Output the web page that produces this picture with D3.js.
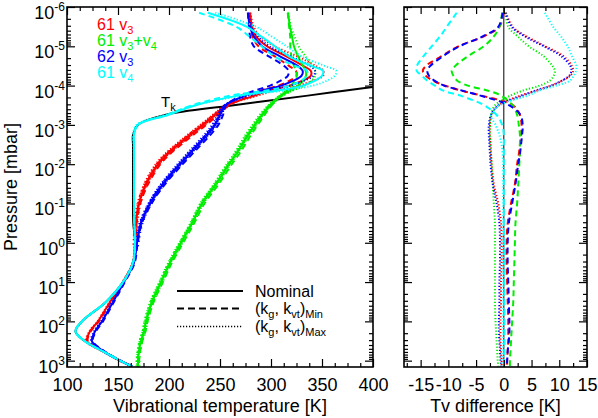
<!DOCTYPE html>
<html><head><meta charset="utf-8">
<script src="https://cdn.jsdelivr.net/npm/d3@7"></script>
<style>body{margin:0;background:#fff}svg{display:block;font-family:"Liberation Sans",Arial,sans-serif}</style>
</head><body><svg id="c" width="598" height="418"></svg>
<script>
// ---------- data ----------
const pressure = [1.4e-6, 3.2e-6, 5.6e-6, 1e-5, 1.8e-5, 3.2e-5, 4.2e-5, 5.6e-5, 7.5e-5, 1e-4, 1.33e-4, 1.8e-4, 3.2e-4, 5.6e-4, 1e-3, 1.8e-3, 3.2e-3, 5.6e-3, 1e-2, 3.2e-2, 0.1, 0.32, 1, 3.2, 10, 32, 100, 180, 320, 560, 1000, 1400];
const tkNominal = [null, null, null, null, null, null, null, null, null, 410, 373.5, 336, 261.5, 196, 169.6, 164.7, 164.7, 164.7, 164.7, 164.7, 164.7, 165, 166.7, 164.7, 154.9, 138.2, 114.7, 108.3, 117.6, 134.3, 152, 163.7];
const tv61v3 = [279.4, 281.4, 285.3, 296, 315, 332, 339, 339, 331, 318, 298, 284, 257, 245, 233.3, 220.6, 208.8, 198, 189.2, 177.5, 170.6, 167.6, 166.7, 164.7, 154.9, 142.2, 130.4, 122.5, 119.6, 134.3, 152, 163.7];
const tv61v3v4 = [316.7, 318.6, 320.6, 322.5, 326.5, 331.4, 334, 334.3, 331.5, 326.5, 318, 309.8, 299, 291.2, 284.3, 277.5, 271.6, 265.7, 258.8, 246.1, 232.4, 222.5, 211.8, 201, 192.2, 183.3, 177.5, 175.5, 172.5, 170.6, 169.6, 169.6];
const tv62v3 = [277.5, 279.4, 283.3, 291.2, 308.8, 326.5, 331, 330, 322, 310, 292, 275, 255, 250, 245, 237.3, 228.4, 219.6, 210.8, 194.1, 181.4, 172.5, 168.6, 165.7, 155.9, 145.1, 134.3, 127.5, 124.5, 135.3, 152, 163.7];
const tv61v4 = [238, 276.5, 290.2, 303.9, 317.6, 340.2, 351, 350, 343.1, 331.4, 306.9, 267.6, 225.5, 199, 169.6, 165.7, 165.7, 165.7, 165.7, 165.7, 165.7, 166, 166.7, 164.7, 154.9, 138.2, 114.7, 108.3, 117.6, 134.3, 152, 163.7];
// differences (K) relative to nominal: Min = dashed, Max = dotted
const dMin61v3 = [0, -0.8, -3.6, -8.2, -11.3, -14.1, -14.6, -14.1, -12.8, -10.6, -7.8, -4, 1.7, 2.9, 3.2, 3.1, 2.9, 2.7, 2.4, 2.0, 1.3, 0.7, 0.5, 0.5, 0.6, 0.7, 0.8, 0.8, 0.8, 0.7, 0.6, 0.6];
const dMin61v3v4 = [-0.3, -0.8, -1.8, -3.6, -6.5, -8.8, -9.4, -9.1, -8.4, -6.5, -3.0, -0.5, 1.6, 2.4, 2.7, 2.9, 2.9, 2.9, 2.8, 2.6, 2.4, 2.1, 2.0, 1.9, 1.8, 1.7, 1.5, 1.4, 1.3, 1.2, 1.1, 1.1];
const dMin62v3 = [-0.2, -1.0, -3.8, -8.0, -11.0, -13.3, -13.8, -13.5, -12.5, -10.8, -7.6, -4.2, 1.0, 3.0, 3.4, 3.3, 3.1, 2.9, 2.6, 2.1, 1.5, 0.9, 0.7, 0.7, 0.8, 0.9, 1.0, 1.0, 0.9, 0.7, 0.6, 0.5];
const dMin61v4 = [-8.5, -10.3, -11.5, -13.0, -14.5, -15.7, -15.7, -14.8, -13.8, -12.4, -11.0, -7.8, -3.5, -1.3, -0.3, 0, 0, 0, 0, 0, 0, 0, 0.1, 0.1, 0.1, 0.1, 0.1, 0.1, 0.1, 0.1, 0.1, 0.1];
const dMax61v3 = [0.4, 1.6, 4.1, 7.5, 10.8, 12.3, 12.5, 12.0, 10.5, 8.5, 6.0, 3.0, -1.0, -2.2, -2.5, -2.5, -2.4, -2.3, -2.2, -1.8, -1.0, -0.5, -0.4, -0.4, -0.5, -0.5, -0.6, -0.6, -0.6, -0.5, -0.4, -0.4];
const dMax61v3v4 = [0.3, 0.8, 2.5, 4.5, 7.2, 8.8, 9.2, 9.0, 8.3, 6.5, 3.5, 1.2, -1.6, -2.3, -2.5, -2.5, -2.4, -2.3, -2.2, -2.0, -1.8, -1.6, -1.6, -1.6, -1.6, -1.6, -1.5, -1.4, -1.3, -1.2, -1.1, -1.0];
const dMax62v3 = [0.3, 1.4, 3.8, 7.2, 10.4, 12.0, 12.2, 11.8, 10.5, 8.6, 5.8, 3.4, -1.0, -2.3, -2.7, -2.7, -2.6, -2.5, -2.4, -2.0, -1.3, -0.8, -0.7, -0.7, -0.8, -0.8, -0.9, -0.9, -0.8, -0.7, -0.6, -0.5];
const dMax61v4 = [7.4, 8.9, 10.3, 11.5, 12.3, 13.1, 13.0, 12.6, 11.9, 9.5, 6.5, 4.3, -0.8, -2.3, -1.5, -0.8, -0.4, -0.2, -0.1, -0.1, -0.1, -0.1, -0.1, -0.1, -0.1, -0.1, -0.1, -0.1, -0.1, -0.1, -0.1, -0.1];

const tempTicks = [100, 150, 200, 250, 300, 350, 400];
const diffTicks = [-15, -10, -5, 0, 5, 10, 15];
const pressureDecades = [-6, -5, -4, -3, -2, -1, 0, 1, 2, 3];

const species = [
  {label: ["61 v", "3"], color: "#ff0000", tv: tv61v3, dMin: dMin61v3, dMax: dMax61v3, marks: [3.2e-4, 1.2]},
  {label: ["61 v", "3", "+v", "4"], color: "#00ee00", tv: tv61v3v4, dMin: dMin61v3v4, dMax: dMax61v3v4, marks: [1.1e-4, 2000]},
  {label: ["62 v", "3"], color: "#0000ff", tv: tv62v3, dMin: dMin62v3, dMax: dMax62v3, marks: [3.0e-4, 1.2]},
  {label: ["61 v", "4"], color: "#00ffff", tv: tv61v4, dMin: dMin61v4, dMax: dMax61v4, marks: null}
];

// ---------- layout ----------
const svg = d3.select("#c");
const yP = d3.scaleLog().domain([1e-6, 1450]).range([7, 367]);
const xL = d3.scaleLinear().domain([100, 400]).range([67, 373]);
const xR = d3.scaleLinear().domain([-18, 15]).range([404, 587]);
const FS = 18;

const defs = svg.append("defs");
defs.append("clipPath").attr("id", "clipL").append("rect").attr("x", 67).attr("y", 7).attr("width", 306).attr("height", 360);
defs.append("clipPath").attr("id", "clipR").append("rect").attr("x", 404).attr("y", 7).attr("width", 183).attr("height", 360);

const minorsY = [];
pressureDecades.forEach(d => { for (let k = 2; k <= 9; k++) { const v = k * Math.pow(10, d); if (v <= 1450) minorsY.push(v); } });
const decadeVals = pressureDecades.map(d => Math.pow(10, d));

function frame(x, majors, minors, majLen, minLen) {
  const [x0, x1] = x.range();
  const g = svg.append("g");
  const strip = a => a.call(s => s.select(".domain").remove());
  const b = g.append("g").attr("transform", "translate(0,367)")
    .call(d3.axisBottom(x).tickValues(majors).tickSize(-majLen).tickSizeOuter(0).tickPadding(11).tickFormat(d => String(d)));
  strip(b);
  b.selectAll("text").attr("font-size", FS).attr("font-family", "Liberation Sans, Arial, sans-serif").attr("fill", "#000");
  g.append("g").attr("transform", "translate(0,367)").call(d3.axisBottom(x).tickValues(minors).tickSize(-minLen).tickFormat("")).call(strip);
  g.append("g").attr("transform", "translate(0,7)").call(d3.axisTop(x).tickValues(majors).tickSize(-majLen).tickFormat("")).call(strip);
  g.append("g").attr("transform", "translate(0,7)").call(d3.axisTop(x).tickValues(minors).tickSize(-minLen).tickFormat("")).call(strip);
  g.append("g").attr("transform", `translate(${x0},0)`).call(d3.axisLeft(yP).tickValues(decadeVals).tickSize(-8).tickFormat("")).call(strip);
  g.append("g").attr("transform", `translate(${x0},0)`).call(d3.axisLeft(yP).tickValues(minorsY).tickSize(-4).tickFormat("")).call(strip);
  g.append("g").attr("transform", `translate(${x1},0)`).call(d3.axisRight(yP).tickValues(decadeVals).tickSize(-8).tickFormat("")).call(strip);
  g.append("g").attr("transform", `translate(${x1},0)`).call(d3.axisRight(yP).tickValues(minorsY).tickSize(-4).tickFormat("")).call(strip);
  g.selectAll(".tick line").attr("stroke", "#000").attr("stroke-width", 1.2);
  g.append("rect").attr("x", x0).attr("y", 7).attr("width", x1 - x0).attr("height", 360)
    .attr("fill", "none").attr("stroke", "#000").attr("stroke-width", 1.6);
}

const tempMinors = d3.range(100, 400.1, 12.5).filter(v => v % 50 !== 0);
const diffMinors = d3.range(-17.5, 15.1, 2.5).filter(v => v % 5 !== 0);

// ---------- left panel curves ----------
const line = (xs, vals) => d3.line()
  .defined(d => d[0] != null)
  .x(d => xs(d[0])).y(d => yP(d[1]))
  .curve(d3.curveCatmullRom.alpha(0.5))(vals.map((v, i) => [v, pressure[i]]));

const gL = svg.append("g").attr("clip-path", "url(#clipL)");
gL.append("path").attr("d", line(xL, tkNominal)).attr("fill", "none").attr("stroke", "#000").attr("stroke-width", 2);

species.forEach(s => {
  const minVals = s.tv.map((t, i) => t + s.dMin[i]);
  const maxVals = s.tv.map((t, i) => t + s.dMax[i]);
  gL.append("path").attr("d", line(xL, maxVals)).attr("fill", "none").attr("stroke", s.color).attr("stroke-width", 2).attr("stroke-dasharray", "1.2,2");
  gL.append("path").attr("d", line(xL, minVals)).attr("fill", "none").attr("stroke", s.color).attr("stroke-width", 2).attr("stroke-dasharray", "6,4");
  const p = gL.append("path").attr("d", line(xL, s.tv)).attr("fill", "none").attr("stroke", s.color).attr("stroke-width", 2);
  if (s.marks) {
    const node = p.node(), L = node.getTotalLength();
    const yTop = yP(s.marks[0]), yBot = Math.min(367, yP(s.marks[1]));
    for (let d = 0; d <= L; d += 4.5) {
      const pt = node.getPointAtLength(d);
      if (pt.y < yTop || pt.y > yBot) continue;
      gL.append("path").attr("d", `M${pt.x - 2.5},${pt.y}h5M${pt.x},${pt.y - 2.5}v5`)
        .attr("stroke", s.color).attr("stroke-width", 1.3);
    }
  }
});

// ---------- right panel ----------
const gR = svg.append("g").attr("clip-path", "url(#clipR)");
gR.append("line").attr("x1", xR(0)).attr("x2", xR(0)).attr("y1", 7).attr("y2", 367).attr("stroke", "#000").attr("stroke-width", 1);
species.forEach(s => {
  gR.append("path").attr("d", line(xR, s.dMax)).attr("fill", "none").attr("stroke", s.color).attr("stroke-width", 2).attr("stroke-dasharray", "1.2,2");
  gR.append("path").attr("d", line(xR, s.dMin)).attr("fill", "none").attr("stroke", s.color).attr("stroke-width", 2).attr("stroke-dasharray", "6,4");
});

frame(xL, tempTicks, tempMinors, 8, 4);
frame(xR, diffTicks, diffMinors, 7, 4);

// y tick labels (10^n)
pressureDecades.forEach(d => {
  const yy = yP(Math.pow(10, d));
  const t = svg.append("text").attr("x", 65).attr("y", yy + 12).attr("text-anchor", "end")
    .attr("font-size", FS).attr("fill", "#000");
  t.append("tspan").text("10");
  t.append("tspan").attr("dy", -8).attr("font-size", 12).text(String(d));
});

// axis titles
svg.append("text").attr("x", 220).attr("y", 412).attr("text-anchor", "middle").attr("font-size", FS).text("Vibrational temperature [K]");
svg.append("text").attr("x", 495.5).attr("y", 412).attr("text-anchor", "middle").attr("font-size", FS).text("Tv difference [K]");
svg.append("text").attr("transform", `translate(17,187) rotate(-90)`).attr("text-anchor", "middle").attr("font-size", FS).text("Pressure [mbar]");

// species legend
species.forEach((s, i) => {
  const t = svg.append("text").attr("x", 97).attr("y", 29.5 + i * 16).attr("font-size", 16).attr("fill", s.color);
  for (let k = 0; k < s.label.length; k++) {
    const sp = t.append("tspan").text(s.label[k]);
    if (k % 2 === 1) sp.attr("font-size", 11).attr("dy", 4);
    else if (k > 0) sp.attr("dy", -4);
  }
});

// Tk label
const tk = svg.append("text").attr("x", 161).attr("y", 107).attr("font-size", 15);
tk.append("tspan").text("T");
tk.append("tspan").attr("font-size", 11).attr("dy", 4).text("k");

// line-style legend
const styles = [
  {dash: null, y: 291, text: [["Nominal", 0]]},
  {dash: "7,4", y: 308.5, text: [["(k", 0], ["g", 1], [", k", 0], ["vt", 1], [")", 0], ["Min", 1]]},
  {dash: "1.2,1.8", y: 326.5, text: [["(k", 0], ["g", 1], [", k", 0], ["vt", 1], [")", 0], ["Max", 1]]}
];
styles.forEach(st => {
  const l = svg.append("line").attr("x1", 177).attr("x2", 243).attr("y1", st.y).attr("y2", st.y)
    .attr("stroke", "#000").attr("stroke-width", st.dash === "1.2,1.8" ? 1.3 : 2);
  if (st.dash) l.attr("stroke-dasharray", st.dash);
  const t = svg.append("text").attr("x", 255).attr("y", st.y + 5.5).attr("font-size", 16);
  let sub = 0;
  st.text.forEach(([txt, isSub]) => {
    const sp = t.append("tspan").text(txt);
    if (isSub && !sub) { sp.attr("font-size", 11).attr("dy", 4); sub = 1; }
    else if (isSub && sub) { sp.attr("font-size", 11); }
    else if (!isSub && sub) { sp.attr("dy", -4); sub = 0; }
  });
});
</script></body></html>
